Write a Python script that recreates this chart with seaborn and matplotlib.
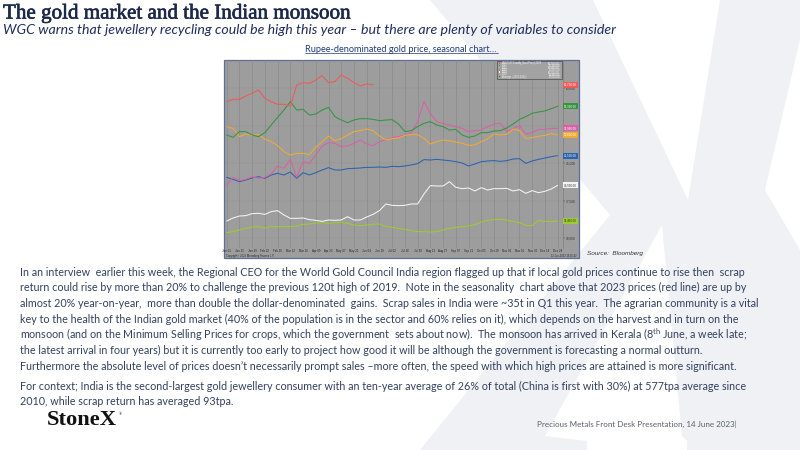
import numpy as np
import pandas as pd
import matplotlib
matplotlib.use('Agg')
import matplotlib.pyplot as plt
import matplotlib.transforms as mtransforms
import matplotlib.patheffects as pe
from matplotlib import font_manager
from matplotlib.patches import Rectangle, Polygon
import seaborn as sns

# weekly INGOLD prices (INR / 10g, Jan 01 = day 0)
y2023 = [57330, 57790, 57790, 58460, 58990, 59660, 57990, 57330, 56790, 56790, 56460, 60660,
         61130, 60990, 61660, 62530, 61130, 61330, 62660, 61990, 61130, 60460, 60860, 60730]
y2022 = [50660, 50190, 51330, 51330, 50660, 50330, 51130, 52660, 54190, 55660, 57330, 55660,
         55790, 54660, 54860, 55660, 56190, 54330, 53660, 53130, 53660, 53930, 53930, 53790,
         53530, 53660, 53730, 52860, 51330, 51530, 52330, 52990, 53330, 52660, 52330, 51660,
         51790, 50660, 50190, 50460, 51130, 51130, 51460, 51530, 52060, 52860, 53790, 54330,
         54990, 55260, 55460, 55930, 56390]
y2021 = [52330, 51990, 50330, 50860, 50590, 50730, 49860, 49330, 48530, 47330, 46660, 46990,
         46990, 46730, 48190, 49330, 50460, 49530, 49930, 50660, 51330, 51530, 51860, 51530,
         50460, 49660, 49930, 50060, 50590, 50730, 50730, 49990, 48860, 49330, 49660, 49530,
         49260, 48990, 48590, 48660, 49330, 49930, 50860, 50660, 50790, 51860, 51530, 49990,
         50130, 50390, 50590, 50930, 50660]
y2020 = [40660, 42190, 41530, 41790, 42330, 41990, 42190, 42860, 44460, 43990, 45790, 42190,
         45330, 44990, 46660, 48460, 49130, 48990, 48330, 48460, 48990, 49660, 48860, 48530,
         49330, 49660, 50130, 50330, 50660, 51130, 53330, 57330, 54990, 53330, 52990, 52660,
         52330, 51990, 51330, 51530, 51660, 52330, 52860, 52990, 51330, 51930, 52530, 50860,
         51130, 51790, 51790, 51990, 51990]
y2019 = [33460, 34060, 34460, 34530, 34930, 34990, 34790, 35330, 35530, 34660, 33990, 33990,
         34060, 33730, 33590, 33390, 33660, 33590, 33660, 34330, 33660, 33660, 34260, 34790,
         35530, 36860, 36590, 36530, 36590, 36860, 36860, 38860, 40530, 40460, 40460, 41330,
         40190, 39930, 40060, 39460, 40130, 39660, 39930, 39930, 39990, 39460, 39730, 38990,
         39530, 39130, 39390, 39860, 40590]
y2018 = [31130, 31330, 31660, 31990, 32260, 32330, 32060, 32330, 32330, 32330, 32330, 32460,
         32790, 32860, 33060, 33130, 32990, 33130, 33190, 32990, 32660, 32530, 32660, 32790,
         32860, 32390, 32190, 31990, 31790, 31530, 31330, 31330, 31260, 31330, 31660, 31990,
         32190, 32330, 32460, 32730, 33260, 33590, 33730, 33790, 33660, 33390, 33130, 32590,
         32530, 33590, 33390, 33330, 33460]
y_avg = [42190, 41790, 41330, 41660, 42060, 42330, 41990, 42660, 42990, 42660, 43260, 41990,
         43130, 42660, 43130, 43660, 44130, 43660, 43660, 43930, 43990, 44060, 44190, 44190,
         44260, 44190, 44390, 44330, 44460, 44660, 44930, 45730, 45660, 45790, 45660, 45530,
         45330, 45060, 44460, 44860, 45330, 45460, 45530, 45390, 45530, 45860, 45930, 44990,
         45460, 45790, 46060, 46330, 46530]

series_names = ['2023', '2022', '2021', '2020', '2019', '2018', 'Average']
legend_labels = ['INGOLD Comdty (Last Price) 2023', '2022', '2021', '2020', '2019', '2018',
                 'Average  (2018-2022)']
x_tick_labels = ['Jan 01', 'Jan 15', 'Jan 29', 'Feb 12', 'Feb 26', 'Mar 12', 'Mar 26', 'Apr 09',
                 'Apr 23', 'May 07', 'May 21', 'Jun 04', 'Jun 18', 'Jul 02', 'Jul 16', 'Jul 30',
                 'Aug 13', 'Aug 27', 'Sep 07', 'Sep 21', 'Oct 05', 'Oct 19', 'Nov 02', 'Nov 16',
                 'Nov 30', 'Dec 14', 'Dec 28']
y_tick_values = [30000, 37500, 45000, 52500, 60000]

title = 'The gold market and the Indian monsoon'
subtitle = ('WGC warns that jewellery recycling could be high this year \u2013 '
            'but there are plenty of variables to consider')
caption = 'Rupee-denominated gold price, seasonal chart\u2026'
body_lines = [
    'In an interview  earlier this week, the Regional CEO for the World Gold Council India region flagged up that if local gold prices continue to rise then  scrap',
    'return could rise by more than 20% to challenge the previous 120t high of 2019.  Note in the seasonality  chart above that 2023 prices (red line) are up by',
    'almost 20% year-on-year,  more than double the dollar-denominated  gains.  Scrap sales in India were ~35t in Q1 this year.  The agrarian community is a vital',
    'key to the health of the Indian gold market (40% of the population is in the sector and 60% relies on it), which depends on the harvest and in turn on the',
    'monsoon (and on the Minimum Selling Prices for crops, which the government  sets about now).  The monsoon has arrived in Kerala (8$^{\\rm th}$ June, a week late;',
    'the latest arrival in four years) but it is currently too early to project how good it will be although the government is forecasting a normal outturn.',
    'Furthermore the absolute level of prices doesn\u2019t necessarily prompt sales \u2013more often, the speed with which high prices are attained is more significant.',
]
context_lines = [
    'For context; India is the second-largest gold jewellery consumer with an ten-year average of 26% of total (China is first with 30%) at 577tpa average since',
    '2010, while scrap return has averaged 93tpa.',
]
footer = 'Precious Metals Front Desk Presentation, 14 June 2023|'
source = 'Source:  Bloomberg'

values = dict(zip(series_names, [y2023, y2022, y2021, y2020, y2019, y2018, y_avg]))
df = pd.concat([pd.DataFrame({'day': np.arange(len(v)) * 7, 'price': v, 'series': k})
                for k, v in values.items()], ignore_index=True)

colors = {'2023': '#ee5a57', '2022': '#35953f', '2021': '#f0aa35', '2020': '#dc5fa3',
          '2019': '#f4f4f4', '2018': '#9ccc2e', 'Average': '#2a62b0'}
box_text = {'2019': '#333333', '2018': '#333333'}

names = {f.name for f in font_manager.fontManager.ttflist}
sans = 'Lato' if 'Lato' in names else 'DejaVu Sans'
serif = 'Liberation Serif' if 'Liberation Serif' in names else 'DejaVu Serif'
arial = 'Liberation Sans' if 'Liberation Sans' in names else 'DejaVu Sans'

sns.set_style('white')
plt.rcParams['font.family'] = [sans, 'DejaVu Sans']
plt.rcParams['mathtext.fontset'] = 'custom'
plt.rcParams['mathtext.rm'] = sans
plt.rcParams['mathtext.it'] = sans + ':italic'

fig = plt.figure(figsize=(8, 4.5), dpi=100)
fig.patch.set_facecolor('white')
renderer = fig.canvas.get_renderer()


def fit(text, target, **kw):
    # font size that makes the text span `target` pixels
    t = fig.text(0, 0, text, fontsize=10, **kw)
    w = t.get_window_extent(renderer=renderer).width
    t.remove()
    return 10 * target / w


# background: faint StoneX "X" watermark and the chart frame
bg = fig.add_axes([0, 0, 1, 1], zorder=0)
bg.set_xlim(0, 800)
bg.set_ylim(450, 0)
bg.axis('off')
wm = '#eff1f4'
bg.add_patch(Polygon([(430, 0), (800, 0), (800, 450), (420, 450), (610, 215)], closed=True, fc=wm, ec='none'))
for pts in ([(593, 0), (720, 0), (688, 200)],
            [(800, 40), (765, 190), (800, 250)],
            [(662, 225), (682, 436), (687, 441), (687, 450), (587, 450), (587, 441), (545, 436)]):
    bg.add_patch(Polygon(pts, closed=True, fc='white', ec='none'))
bg.add_patch(Rectangle((224, 59.5), 354.5, 198.2, fc='#9d9d9d', ec='#5d6f96', lw=0.9))

# the seasonal chart
L, R, T, B = 224.5, 562.7, 59.5, 248.0
ax = fig.add_axes([L / 800, 1 - B / 450, (R - L) / 800, (B - T) / 450], zorder=1)
ax.set_facecolor('none')
sns.lineplot(data=df, x='day', y='price', hue='series',
             hue_order=['2018', '2019', 'Average', '2020', '2021', '2022', '2023'],
             palette=colors, linewidth=0.75, estimator=None, legend=False, ax=ax)
ax.set_xlim(-2.4, 369.6)
ax.set_ylim(28060, 65760)
ax.set_xlabel('')
ax.set_ylabel('')
ax.set_xticks(np.arange(len(x_tick_labels)) * 14)
ax.set_xticklabels(x_tick_labels, fontsize=2.1, color='#222222', family=arial)
ax.tick_params(axis='x', length=0, pad=1.0)
ax.yaxis.tick_right()
ax.set_yticks(y_tick_values)
ax.set_yticklabels([f'{v:,}' for v in y_tick_values], fontsize=2.3, color='#333333', family=arial)
ax.tick_params(axis='y', length=1.2, width=0.3, pad=0.8, colors='#333333')
ax.grid(True, axis='x', color='#8a8a8a', lw=0.5)
ax.grid(True, axis='y', color='#939393', lw=0.35)
for s in ['left', 'top', 'bottom']:
    ax.spines[s].set_visible(False)
ax.spines['right'].set_color('#7c7c7c')
ax.spines['right'].set_linewidth(0.5)

trans = mtransforms.blended_transform_factory(ax.transAxes, ax.transData)
for name in series_names:
    last = values[name][-1]
    ax.text(1.004, last, f'{last:,.2f}', transform=trans, fontsize=2.1, family=arial,
            color=box_text.get(name, 'white'), va='center', ha='left', clip_on=False,
            bbox=dict(boxstyle='square,pad=0.35', fc=colors[name], ec='none'))

# overlay for legend and slide text
ov = fig.add_axes([0, 0, 1, 1], zorder=3)
ov.set_xlim(0, 800)
ov.set_ylim(450, 0)
ov.axis('off')

lx, ly = 497, 61
ov.add_patch(Rectangle((lx, ly), 65, 17.5, fc='#a2a2a2', ec='#595959', lw=0.6))
for i, (name, lab) in enumerate(zip(series_names, legend_labels)):
    yy = ly + 2.2 + i * 2.25
    ov.add_patch(Rectangle((lx + 1.5, yy - 0.8), 1.8, 1.6, fc=colors[name], ec='none'))
    ov.text(lx + 4.5, yy, lab, fontsize=1.8, color='#f4f4f4', va='center', family=arial)
    ov.text(lx + 63, yy, f'{values[name][-1]:,.2f}', fontsize=1.8, color='#f4f4f4',
            va='center', ha='right', family=arial)

ov.text(226, 255.6, 'Copyright\u00a9 2023 Bloomberg Finance L.P.', fontsize=1.9,
        color='#2a2a2a', va='center', family=arial)
ov.text(577, 255.6, '12-Jun-2023 15:16:42', fontsize=1.9, color='#2a2a2a',
        va='center', ha='right', family=arial)

title_col = '#1c2847'
ov.text(3, 14, title, fontsize=fit(title, 348, family=serif), family=serif,
        color=title_col, va='center',
        path_effects=[pe.withStroke(linewidth=0.45, foreground=title_col)])
ov.text(3, 30, subtitle, fontsize=fit(subtitle, 612, style='italic'), style='italic',
        color='#1f2d5c', va='center')

cap_size = fit(caption, 193)
ov.text(401, 51.5, caption, fontsize=cap_size, color='#1f3a7a', ha='center', va='baseline')
ov.plot([304.5, 497.5], [53, 53], color='#1f3a7a', lw=0.5)

body_size = fit(body_lines[0], 728)
for i, line in enumerate(body_lines):
    ov.text(20, 275.5 + 15.8 * i, line, fontsize=body_size, color='#33415e', va='baseline')
for i, line in enumerate(context_lines):
    ov.text(20, 389.5 + 15.3 * i, line, fontsize=body_size, color='#33415e', va='baseline')

ov.text(587, 253, source, fontsize=fit(source, 56, family=arial, style='italic'),
        family=arial, style='italic', color='#333333', va='center')
ov.text(537, 424, footer, fontsize=fit(footer, 200), color='#5a5f6b', va='center')

ov.text(47, 420, 'StoneX', fontsize=fit('StoneX', 70, family=serif, weight='bold'),
        family=serif, weight='bold', color='#111111', va='center')
ov.text(118.5, 414, '\u00ae', fontsize=3, family=serif, color='#111111', va='center')

fig.savefig('out.png', dpi=100, facecolor='white')
